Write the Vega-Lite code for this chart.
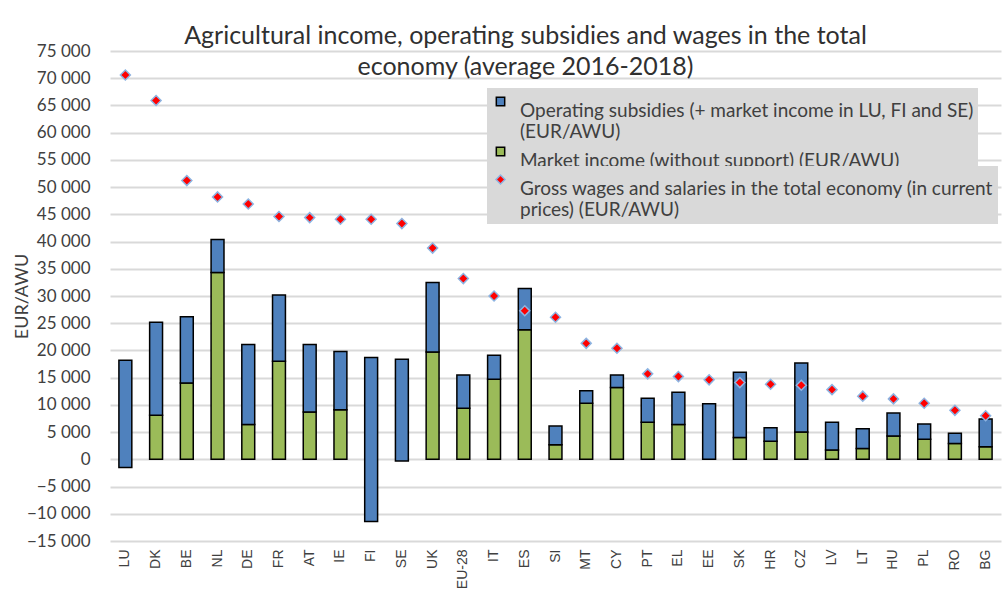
{
  "$schema": "https://vega.github.io/schema/vega-lite/v6.json",
  "width": 891,
  "height": 490,
  "autosize": "none",
  "padding": {"left": 110, "top": 51, "right": 3, "bottom": 48},
  "background": "white",
  "config": {
    "view": {"stroke": null},
    "font": "Lato",
    "axis": {"labelFont": "Lato", "titleFont": "Lato"},
    "legend": {"labelFont": "Lato"},
    "axisX": {
      "title": null, "labelAngle": -90, "labelFontSize": 14, "labelFont": "Liberation Sans", "labelColor": "#404040",
      "domain": false, "ticks": false, "labelPadding": 8, "grid": false
    },
    "axisY": {
      "titleFontSize": 18, "titleFontWeight": "normal", "titleColor": "#404040",
      "titlePadding": -5, "labelOverlap": false,
      "labelFontSize": 17, "labelColor": "#404040", "labelPadding": 20,
      "domain": false, "ticks": false,
      "gridColor": "#d9d9d9", "gridWidth": 2
    }
  },
  "title": {
    "text": ["Agricultural income, operating subsidies and wages in the total", "economy (average 2016-2018)"],
    "fontSize": 25,
    "fontWeight": "normal",
    "color": "#303030",
    "lineHeight": 31,
    "anchor": "middle",
    "dx": -30,
    "offset": -38
  },
  "resolve": {"scale": {"color": "independent"}},
  "datasets": {
    "bars": [
      {"c": "LU", "s": "sub", "lo": -1500, "hi": 18200},
      {"c": "DK", "s": "mkt", "lo": 0, "hi": 8100}, {"c": "DK", "s": "sub", "lo": 8100, "hi": 25200},
      {"c": "BE", "s": "mkt", "lo": 0, "hi": 14000}, {"c": "BE", "s": "sub", "lo": 14000, "hi": 26200},
      {"c": "NL", "s": "mkt", "lo": 0, "hi": 34300}, {"c": "NL", "s": "sub", "lo": 34300, "hi": 40400},
      {"c": "DE", "s": "mkt", "lo": 0, "hi": 6400}, {"c": "DE", "s": "sub", "lo": 6400, "hi": 21100},
      {"c": "FR", "s": "mkt", "lo": 0, "hi": 18000}, {"c": "FR", "s": "sub", "lo": 18000, "hi": 30200},
      {"c": "AT", "s": "mkt", "lo": 0, "hi": 8700}, {"c": "AT", "s": "sub", "lo": 8700, "hi": 21100},
      {"c": "IE", "s": "mkt", "lo": 0, "hi": 9100}, {"c": "IE", "s": "sub", "lo": 9100, "hi": 19800},
      {"c": "FI", "s": "sub", "lo": -11400, "hi": 18700},
      {"c": "SE", "s": "sub", "lo": -300, "hi": 18400},
      {"c": "UK", "s": "mkt", "lo": 0, "hi": 19700}, {"c": "UK", "s": "sub", "lo": 19700, "hi": 32500},
      {"c": "EU-28", "s": "mkt", "lo": 0, "hi": 9400}, {"c": "EU-28", "s": "sub", "lo": 9400, "hi": 15500},
      {"c": "IT", "s": "mkt", "lo": 0, "hi": 14700}, {"c": "IT", "s": "sub", "lo": 14700, "hi": 19100},
      {"c": "ES", "s": "mkt", "lo": 0, "hi": 23800}, {"c": "ES", "s": "sub", "lo": 23800, "hi": 31400},
      {"c": "SI", "s": "mkt", "lo": 0, "hi": 2700}, {"c": "SI", "s": "sub", "lo": 2700, "hi": 6100},
      {"c": "MT", "s": "mkt", "lo": 0, "hi": 10300}, {"c": "MT", "s": "sub", "lo": 10300, "hi": 12600},
      {"c": "CY", "s": "mkt", "lo": 0, "hi": 13200}, {"c": "CY", "s": "sub", "lo": 13200, "hi": 15500},
      {"c": "PT", "s": "mkt", "lo": 0, "hi": 6800}, {"c": "PT", "s": "sub", "lo": 6800, "hi": 11200},
      {"c": "EL", "s": "mkt", "lo": 0, "hi": 6400}, {"c": "EL", "s": "sub", "lo": 6400, "hi": 12300},
      {"c": "EE", "s": "sub", "lo": 0, "hi": 10200},
      {"c": "SK", "s": "mkt", "lo": 0, "hi": 4000}, {"c": "SK", "s": "sub", "lo": 4000, "hi": 16000},
      {"c": "HR", "s": "mkt", "lo": 0, "hi": 3300}, {"c": "HR", "s": "sub", "lo": 3300, "hi": 5800},
      {"c": "CZ", "s": "mkt", "lo": 0, "hi": 5000}, {"c": "CZ", "s": "sub", "lo": 5000, "hi": 17700},
      {"c": "LV", "s": "mkt", "lo": 0, "hi": 1700}, {"c": "LV", "s": "sub", "lo": 1700, "hi": 6800},
      {"c": "LT", "s": "mkt", "lo": 0, "hi": 2000}, {"c": "LT", "s": "sub", "lo": 2000, "hi": 5600},
      {"c": "HU", "s": "mkt", "lo": 0, "hi": 4300}, {"c": "HU", "s": "sub", "lo": 4300, "hi": 8500},
      {"c": "PL", "s": "mkt", "lo": 0, "hi": 3700}, {"c": "PL", "s": "sub", "lo": 3700, "hi": 6500},
      {"c": "RO", "s": "mkt", "lo": 0, "hi": 2900}, {"c": "RO", "s": "sub", "lo": 2900, "hi": 4800},
      {"c": "BG", "s": "mkt", "lo": 0, "hi": 2300}, {"c": "BG", "s": "sub", "lo": 2300, "hi": 7400}
    ],
    "wages": [
      {"c": "LU", "s": "wag", "w": 70600}, {"c": "DK", "s": "wag", "w": 65900},
      {"c": "BE", "s": "wag", "w": 51200}, {"c": "NL", "s": "wag", "w": 48200},
      {"c": "DE", "s": "wag", "w": 46900}, {"c": "FR", "s": "wag", "w": 44600},
      {"c": "AT", "s": "wag", "w": 44400}, {"c": "IE", "s": "wag", "w": 44100},
      {"c": "FI", "s": "wag", "w": 44100}, {"c": "SE", "s": "wag", "w": 43300},
      {"c": "UK", "s": "wag", "w": 38800}, {"c": "EU-28", "s": "wag", "w": 33200},
      {"c": "IT", "s": "wag", "w": 30000}, {"c": "ES", "s": "wag", "w": 27300},
      {"c": "SI", "s": "wag", "w": 26100}, {"c": "MT", "s": "wag", "w": 21300},
      {"c": "CY", "s": "wag", "w": 20400}, {"c": "PT", "s": "wag", "w": 15700},
      {"c": "EL", "s": "wag", "w": 15200}, {"c": "EE", "s": "wag", "w": 14600},
      {"c": "SK", "s": "wag", "w": 14100}, {"c": "HR", "s": "wag", "w": 13800},
      {"c": "CZ", "s": "wag", "w": 13600}, {"c": "LV", "s": "wag", "w": 12800},
      {"c": "LT", "s": "wag", "w": 11600}, {"c": "HU", "s": "wag", "w": 11100},
      {"c": "PL", "s": "wag", "w": 10300}, {"c": "RO", "s": "wag", "w": 9000},
      {"c": "BG", "s": "wag", "w": 8000}
    ]
  },
  "layer": [
    {
      "data": {"name": "bars"},
      "mark": {"type": "bar", "stroke": "#000000", "strokeWidth": 1.5},
      "encoding": {
        "x": {
          "field": "c", "type": "nominal", "sort": null,
          "scale": {"paddingInner": 0.58, "paddingOuter": 0.29},
          "axis": {"title": null}
        },
        "y": {
          "field": "lo", "type": "quantitative",
          "scale": {"domain": [-15000, 75000], "nice": false, "zero": false},
          "axis": {
            "title": "EUR/AWU",
            "values": [-15000, -10000, -5000, 0, 5000, 10000, 15000, 20000, 25000, 30000, 35000, 40000, 45000, 50000, 55000, 60000, 65000, 70000, 75000],
            "labelExpr": "replace(format(datum.value, ',d'), ',', ' ')"
          }
        },
        "y2": {"field": "hi"},
        "color": {
          "field": "s", "type": "nominal",
          "scale": {"domain": ["sub", "mkt"], "range": ["#4f81bd", "#9bbb59"]},
          "legend": {
            "title": null,
            "orient": "none",
            "legendX": 377,
            "legendY": 37,
            "fillColor": "#d9d9d9",
            "padding": 4,
            "labelFontSize": 19,
            "labelColor": "#404040",
            "labelLimit": 560,
            "labelBaseline": "top",
            "labelOffset": 10,
            "symbolType": "square",
            "symbolSize": 70,
            "symbolStrokeColor": "#000000",
            "symbolStrokeWidth": 1.5,
            "rowPadding": 0,
            "labelExpr": "datum.value == 'sub' ? ['Operating subsidies (+ market income in LU, FI and SE)      ', '(EUR/AWU)'] : 'Market income (without support) (EUR/AWU)'"
          }
        }
      }
    },
    {
      "data": {"name": "wages"},
      "mark": {"type": "point", "shape": "diamond", "filled": true, "size": 100, "stroke": "#8db4e2", "strokeWidth": 1.5, "opacity": 1},
      "encoding": {
        "x": {"field": "c", "type": "nominal", "sort": null, "axis": {"title": null}},
        "y": {
          "field": "w", "type": "quantitative",
          "axis": {
            "title": "EUR/AWU",
            "values": [-15000, -10000, -5000, 0, 5000, 10000, 15000, 20000, 25000, 30000, 35000, 40000, 45000, 50000, 55000, 60000, 65000, 70000, 75000],
            "labelExpr": "replace(format(datum.value, ',d'), ',', ' ')"
          }
        },
        "color": {
          "field": "s", "type": "nominal",
          "scale": {"domain": ["wag"], "range": ["#ff0000"]},
          "legend": {
            "title": null,
            "orient": "none",
            "legendX": 377,
            "legendY": 115,
            "fillColor": "#d9d9d9",
            "padding": 4,
            "labelFontSize": 19,
            "labelColor": "#404040",
            "labelLimit": 560,
            "labelBaseline": "top",
            "labelOffset": 10,
            "symbolType": "diamond",
            "symbolSize": 80,
            "symbolStrokeColor": "#8db4e2",
            "symbolStrokeWidth": 1.5,
            "labelExpr": "['Gross wages and salaries in the total economy (in current', 'prices) (EUR/AWU)']"
          }
        }
      }
    }
  ]
}
